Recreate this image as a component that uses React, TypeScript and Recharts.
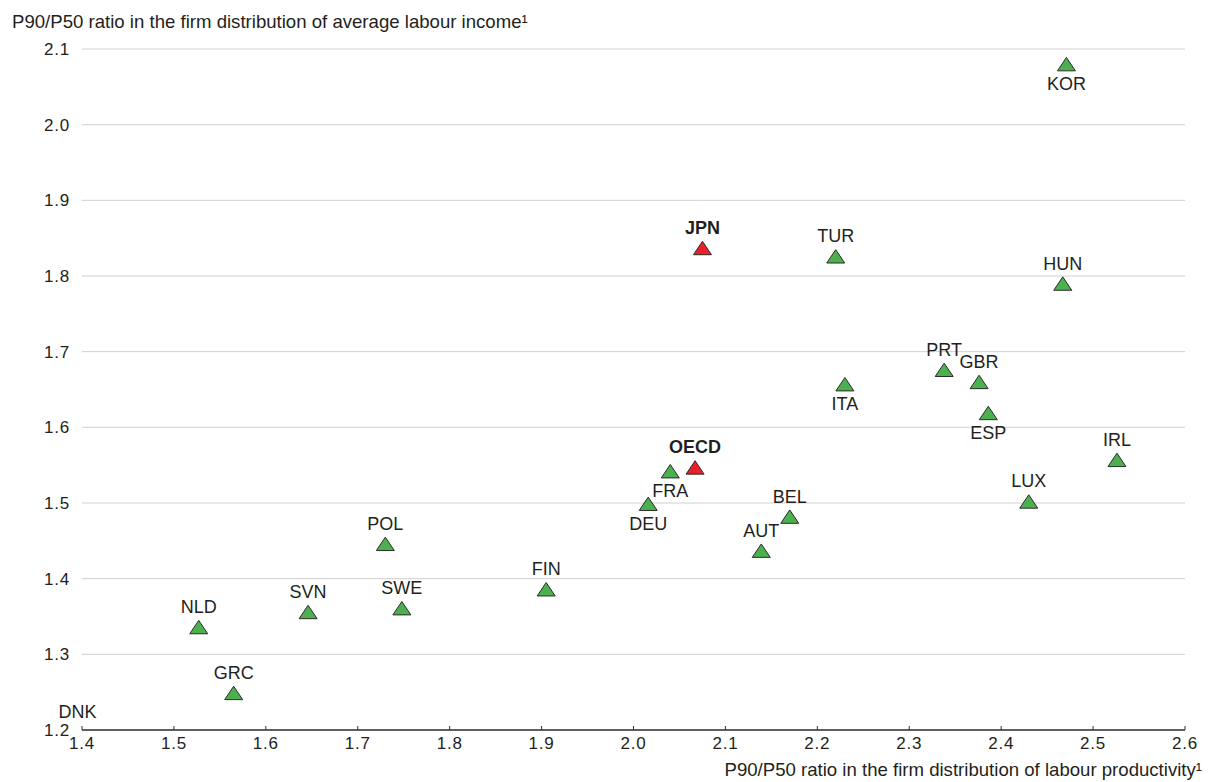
import { CartesianGrid, ReferenceDot, Scatter, ScatterChart, XAxis, YAxis } from "recharts";

// P90/P50 ratios
const countries = ["DNK", "NLD", "GRC", "SVN", "POL", "SWE", "FIN", "DEU", "FRA", "OECD", "JPN", "AUT", "BEL", "TUR", "ITA", "PRT", "GBR", "ESP", "LUX", "HUN", "KOR", "IRL"];
const productivity = [1.395, 1.527, 1.565, 1.646, 1.73, 1.748, 1.905, 2.016, 2.04, 2.067, 2.075, 2.139, 2.17, 2.22, 2.23, 2.338, 2.376, 2.386, 2.43, 2.467, 2.471, 2.526];
const income = [1.197, 1.336, 1.249, 1.356, 1.446, 1.361, 1.386, 1.499, 1.542, 1.547, 1.837, 1.437, 1.482, 1.826, 1.657, 1.676, 1.66, 1.619, 1.502, 1.79, 2.08, 1.557];
const highlighted = ["JPN", "OECD"];
const labelsBelow = ["KOR", "ITA", "ESP", "FRA", "DEU"];

const xTicks = [1.4, 1.5, 1.6, 1.7, 1.8, 1.9, 2.0, 2.1, 2.2, 2.3, 2.4, 2.5, 2.6];
const yTicks = [1.2, 1.3, 1.4, 1.5, 1.6, 1.7, 1.8, 1.9, 2.0, 2.1];

const yTitle = "P90/P50 ratio in the firm distribution of average labour income¹";
const xTitle = "P90/P50 ratio in the firm distribution of labour productivity¹";

const FONT = "'Liberation Sans', Arial, Helvetica, sans-serif";
const TEXT = "#231f20";

const rows = countries.map((name, i) => ({ name, x: productivity[i], y: income[i] }));
const inRange = (r: { x: number; y: number }) =>
  r.x >= xTicks[0] && r.x <= xTicks[xTicks.length - 1] && r.y >= yTicks[0] && r.y <= yTicks[yTicks.length - 1];

const others = rows.filter((r) => inRange(r) && !highlighted.includes(r.name));
const focus = rows.filter((r) => inRange(r) && highlighted.includes(r.name));
const outside = rows.filter((r) => !inRange(r));

function PointLabel({ cx, cy, name }: { cx: number; cy: number; name: string }) {
  const below = labelsBelow.includes(name);
  return (
    <text
      x={cx}
      y={below ? cy + 20 : cy - 20}
      textAnchor="middle"
      dominantBaseline="central"
      fontSize={18}
      fontFamily={FONT}
      fontWeight={highlighted.includes(name) ? "bold" : "normal"}
      fill={TEXT}
    >
      {name}
    </text>
  );
}

function makeTriangle(fill: string) {
  return (props: any) => {
    const { cx, cy, payload } = props;
    if (cx == null || cy == null) return <g />;
    return (
      <g>
        <polygon
          points={`${cx},${cy - 6.7} ${cx - 9},${cy + 6.7} ${cx + 9},${cy + 6.7}`}
          fill={fill}
          stroke="#2b2b2b"
          strokeWidth={1}
        />
        <PointLabel cx={cx} cy={cy} name={payload.name} />
      </g>
    );
  };
}

function XTick(props: any) {
  const { x, y, payload } = props;
  return (
    <g>
      <line x1={x} x2={x} y1={y} y2={y - 4} stroke="#333" strokeWidth={1} />
      <text x={x} y={y + 19} textAnchor="middle" fontSize={17} letterSpacing={0.8} fontFamily={FONT} fill={TEXT}>
        {Number(payload.value).toFixed(1)}
      </text>
    </g>
  );
}

export default function App() {
  return (
    <div style={{ position: "absolute", left: 0, top: 0, width: 1208, height: 782, background: "#fff", fontFamily: FONT }}>
      <div style={{ position: "absolute", left: 12, top: 13, fontSize: 18.6, lineHeight: "18px", color: TEXT, whiteSpace: "nowrap" }}>
        {yTitle}
      </div>
      <ScatterChart width={1208} height={782} margin={{ top: 49, right: 23, bottom: 22, left: 0 }}>
        <CartesianGrid vertical={false} stroke="#d0d0d0" strokeWidth={1} />
        <XAxis
          type="number"
          dataKey="x"
          domain={[1.4, 2.6]}
          ticks={xTicks}
          interval={0}
          height={30}
          tickSize={0}
          tickMargin={0}
          tickLine={false}
          axisLine={{ stroke: "#333", strokeWidth: 1.5 }}
          tick={<XTick />}
        />
        <YAxis
          type="number"
          dataKey="y"
          domain={[1.2, 2.1]}
          ticks={yTicks}
          interval={0}
          width={82}
          tickSize={0}
          tickMargin={12}
          axisLine={false}
          tickLine={false}
          tickFormatter={(v: number) => v.toFixed(1)}
          tick={{ fontSize: 17, fontFamily: FONT, fill: TEXT, letterSpacing: 0.8 }}
        />
        <Scatter data={others} shape={makeTriangle("#4db04f")} isAnimationActive={false} />
        <Scatter data={focus} shape={makeTriangle("#e8212b")} isAnimationActive={false} />
        {outside.map((r) => (
          <ReferenceDot
            key={r.name}
            x={r.x}
            y={r.y}
            ifOverflow="visible"
            shape={(p: any) => <PointLabel cx={p.cx} cy={p.cy} name={r.name} />}
          />
        ))}
      </ScatterChart>
      <div style={{ position: "absolute", right: 6, top: 761, fontSize: 18.6, lineHeight: "18px", color: TEXT, whiteSpace: "nowrap" }}>
        {xTitle}
      </div>
    </div>
  );
}
